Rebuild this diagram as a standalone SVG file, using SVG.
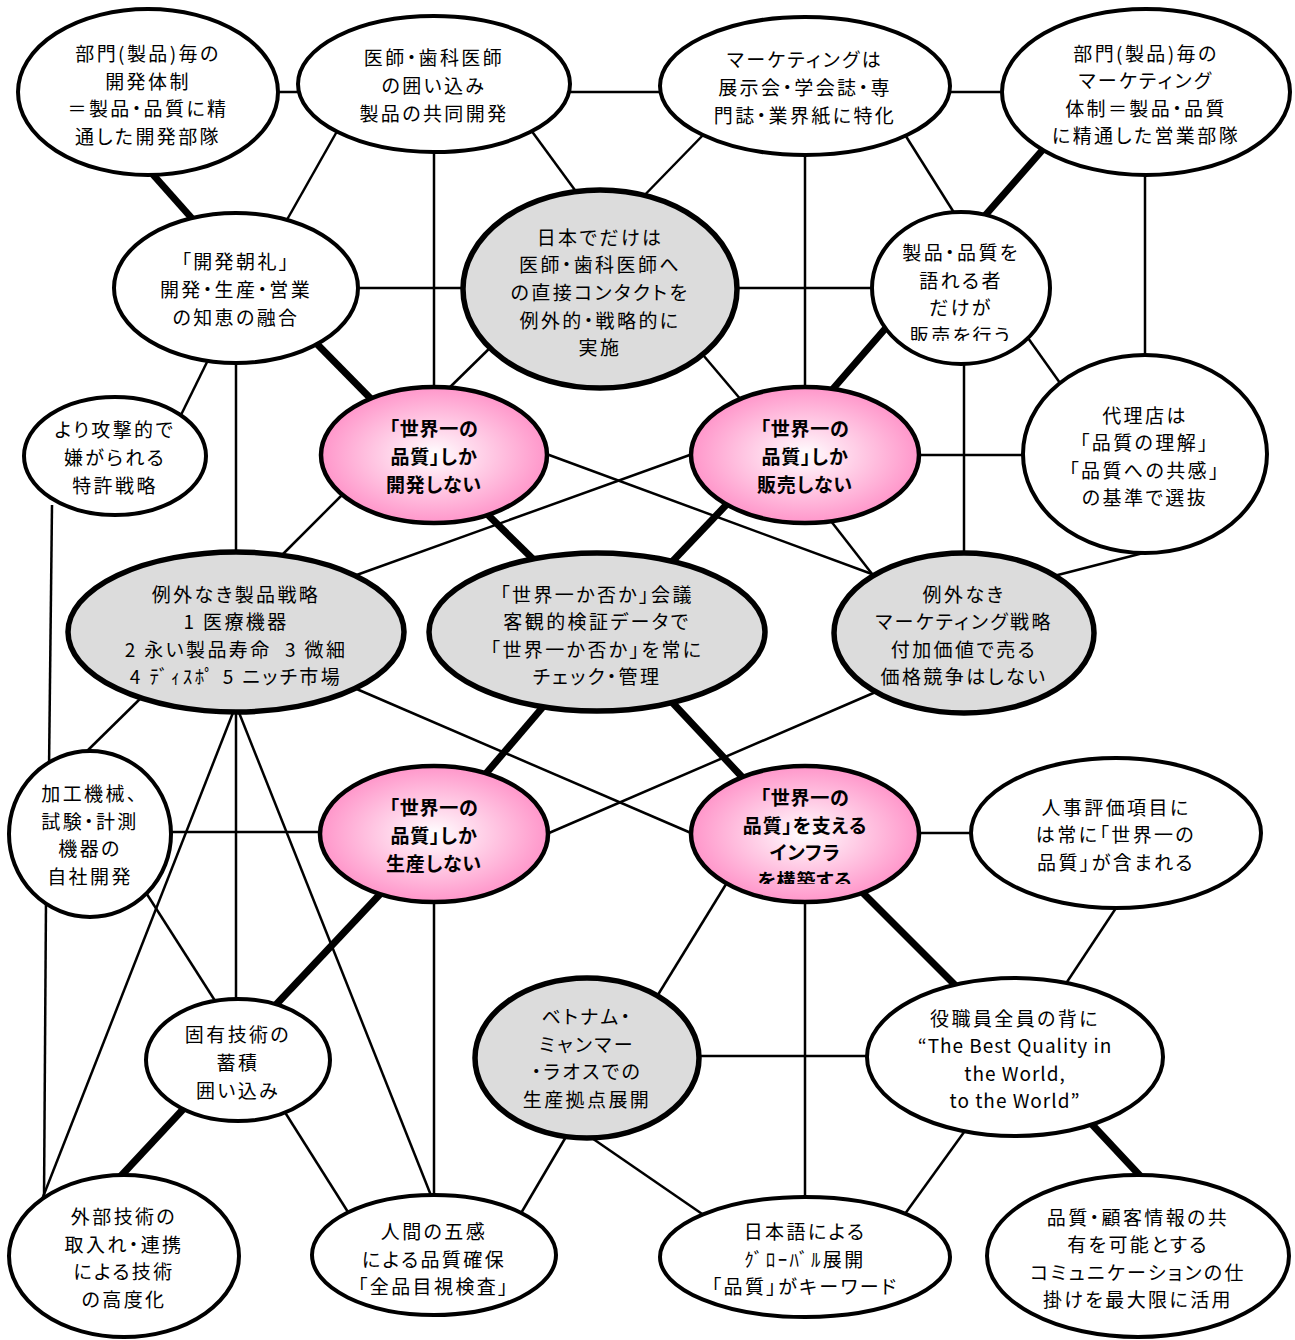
<svg xmlns="http://www.w3.org/2000/svg" width="1295" height="1340" viewBox="0 0 1295 1340">
<defs>
<radialGradient id="pk" cx="50%" cy="50%" r="50%">
<stop offset="0" stop-color="#ffffff"/>
<stop offset="0.25" stop-color="#ffe3f1"/>
<stop offset="1" stop-color="#ff96ca"/>
</radialGradient>
<clipPath id="clip7"><rect x="850" y="200" width="230" height="141"/></clipPath>
<clipPath id="clip17"><rect x="680" y="760" width="250" height="124"/></clipPath>
</defs>
<style>
.c{stroke:#000;stroke-width:2.5;fill:none}
.k{stroke:#000;stroke-width:7;fill:none}
.w{fill:#fff;stroke:#000;stroke-width:4}
.g{fill:#dcdcdc;stroke:#000;stroke-width:5.5}
.p{fill:url(#pk);stroke:#000;stroke-width:4.5}
text{font-family:"Noto Sans CJK JP","Noto Sans",sans-serif;font-size:19px;text-anchor:middle;dominant-baseline:central;letter-spacing:2.4px;font-feature-settings:"palt";white-space:pre;fill:#000}
.b{font-weight:bold;letter-spacing:0.8px}
.l{letter-spacing:1px;font-feature-settings:normal}
</style>
<rect width="1295" height="1340" fill="#fff"/>
<g id="connectors">
<line class="c" x1="270" y1="92" x2="305" y2="92"/>
<line class="c" x1="565" y1="92" x2="665" y2="92"/>
<line class="c" x1="945" y1="92" x2="1007" y2="92"/>
<line class="c" x1="340" y1="126" x2="284" y2="225"/>
<line class="c" x1="434" y1="145" x2="434" y2="395"/>
<line class="c" x1="528" y1="126" x2="580" y2="197"/>
<line class="c" x1="707" y1="131" x2="634" y2="206"/>
<line class="c" x1="805" y1="148" x2="805" y2="395"/>
<line class="c" x1="902" y1="130" x2="958" y2="219"/>
<line class="c" x1="1145" y1="168" x2="1145" y2="362"/>
<line class="c" x1="350" y1="288" x2="470" y2="288"/>
<line class="c" x1="730" y1="288" x2="880" y2="288"/>
<line class="c" x1="210" y1="356" x2="179" y2="419"/>
<line class="c" x1="236" y1="356" x2="236" y2="560"/>
<line class="c" x1="496" y1="342" x2="444" y2="393"/>
<line class="c" x1="698" y1="349" x2="742" y2="401"/>
<line class="c" x1="1028" y1="338" x2="1065" y2="390"/>
<line class="c" x1="964" y1="356" x2="964" y2="560"/>
<line class="c" x1="912" y1="455" x2="1030" y2="455"/>
<line class="c" x1="52" y1="505" x2="49" y2="770"/>
<line class="c" x1="346" y1="491" x2="278" y2="559"/>
<line class="c" x1="541" y1="452" x2="880" y2="577"/>
<line class="c" x1="698" y1="452" x2="351" y2="577"/>
<line class="c" x1="827" y1="516" x2="876" y2="579"/>
<line class="c" x1="1151" y1="551" x2="1050" y2="577"/>
<line class="c" x1="145" y1="694" x2="84" y2="754"/>
<line class="c" x1="236" y1="705" x2="41" y2="1202"/>
<line class="c" x1="236" y1="705" x2="236" y2="1007"/>
<line class="c" x1="236" y1="705" x2="434" y2="1203"/>
<line class="c" x1="352" y1="687" x2="698" y2="836"/>
<line class="c" x1="878" y1="691" x2="542" y2="836"/>
<line class="c" x1="165" y1="832" x2="327" y2="832"/>
<line class="c" x1="143" y1="888" x2="219" y2="1007"/>
<line class="c" x1="46" y1="900" x2="44" y2="1200"/>
<line class="c" x1="434" y1="895" x2="434" y2="1202"/>
<line class="c" x1="281" y1="1106" x2="353" y2="1220"/>
<line class="c" x1="570" y1="1130" x2="517" y2="1220"/>
<line class="c" x1="586" y1="1134" x2="708" y2="1218"/>
<line class="c" x1="728" y1="881" x2="656" y2="998"/>
<line class="c" x1="805" y1="895" x2="805" y2="1204"/>
<line class="c" x1="692" y1="1056" x2="874" y2="1056"/>
<line class="c" x1="912" y1="833" x2="978" y2="833"/>
<line class="c" x1="1118" y1="905" x2="1063" y2="988"/>
<line class="c" x1="967" y1="1128" x2="902" y2="1218"/>
<line class="k" x1="148" y1="169" x2="196" y2="223"/>
<line class="k" x1="1046" y1="146" x2="982" y2="219"/>
<line class="k" x1="315" y1="342" x2="377" y2="405"/>
<line class="k" x1="891" y1="322" x2="825" y2="398"/>
<line class="k" x1="485" y1="512" x2="536" y2="562"/>
<line class="k" x1="729" y1="502" x2="669" y2="565"/>
<line class="k" x1="548" y1="701" x2="483" y2="777"/>
<line class="k" x1="669" y1="699" x2="743" y2="778"/>
<line class="k" x1="383" y1="891" x2="271" y2="1010"/>
<line class="k" x1="188" y1="1104" x2="119" y2="1178"/>
<line class="k" x1="862" y1="892" x2="957" y2="987"/>
<line class="k" x1="1086" y1="1118" x2="1144" y2="1180"/>
</g>
<g id="n1"><ellipse class="w" cx="148" cy="92" rx="130" ry="83"/><text><tspan x="148" y="52.1">部門(製品)毎の</tspan><tspan x="148" y="79.7">開発体制</tspan><tspan x="148" y="107.3">＝製品・品質に精</tspan><tspan x="148" y="134.9">通した開発部隊</tspan></text></g>
<g id="n2"><ellipse class="w" cx="434" cy="84" rx="136" ry="68"/><text><tspan x="434" y="56.4">医師・歯科医師</tspan><tspan x="434" y="84">の囲い込み</tspan><tspan x="434" y="111.6">製品の共同開発</tspan></text></g>
<g id="n3"><ellipse class="w" cx="805" cy="86" rx="145" ry="69"/><text><tspan x="805" y="58.4">マーケティングは</tspan><tspan x="805" y="86">展示会・学会誌・専</tspan><tspan x="805" y="113.6">門誌・業界紙に特化</tspan></text></g>
<g id="n4"><ellipse class="w" cx="1146" cy="92" rx="144" ry="83"/><text><tspan x="1146" y="51.6">部門(製品)毎の</tspan><tspan x="1146" y="79.2">マーケティング</tspan><tspan x="1146" y="106.8">体制＝製品・品質</tspan><tspan x="1146" y="134.4">に精通した営業部隊</tspan></text></g>
<g id="n5"><ellipse class="w" cx="236" cy="288" rx="122" ry="75"/><text><tspan x="236" y="260.4">「開発朝礼」</tspan><tspan x="236" y="288">開発・生産・営業</tspan><tspan x="236" y="315.6">の知恵の融合</tspan></text></g>
<g id="n6"><ellipse class="g" cx="600" cy="289" rx="137" ry="99"/><text><tspan x="600" y="235.8">日本でだけは</tspan><tspan x="600" y="263.4">医師・歯科医師へ</tspan><tspan x="600" y="291">の直接コンタクトを</tspan><tspan x="600" y="318.6">例外的・戦略的に</tspan><tspan x="600" y="346.2">実施</tspan></text></g>
<g id="n7"><ellipse class="w" cx="961" cy="288" rx="89" ry="76"/><text clip-path="url(#clip7)"><tspan x="961" y="251.1">製品・品質を</tspan><tspan x="961" y="278.7">語れる者</tspan><tspan x="961" y="306.3">だけが</tspan><tspan x="961" y="333.9">販売を行う</tspan></text></g>
<g id="n8"><ellipse class="w" cx="115" cy="456" rx="91" ry="59"/><text><tspan x="115" y="428.4">より攻撃的で</tspan><tspan x="115" y="456">嫌がられる</tspan><tspan x="115" y="483.6">特許戦略</tspan></text></g>
<g id="n9"><ellipse class="p" cx="434" cy="455" rx="113" ry="68"/><text class="b"><tspan x="434" y="427.4">「世界一の</tspan><tspan x="434" y="455">品質」しか</tspan><tspan x="434" y="482.6">開発しない</tspan></text></g>
<g id="n10"><ellipse class="p" cx="805" cy="455" rx="114" ry="68"/><text class="b"><tspan x="805" y="427.4">「世界一の</tspan><tspan x="805" y="455">品質」しか</tspan><tspan x="805" y="482.6">販売しない</tspan></text></g>
<g id="n11"><ellipse class="w" cx="1145" cy="454" rx="122" ry="99"/><text><tspan x="1145" y="413.6">代理店は</tspan><tspan x="1145" y="441.2">「品質の理解」</tspan><tspan x="1145" y="468.8">「品質への共感」</tspan><tspan x="1145" y="496.4">の基準で選抜</tspan></text></g>
<g id="n12"><ellipse class="g" cx="236" cy="632" rx="168" ry="80"/><text><tspan x="236" y="592.6">例外なき製品戦略</tspan><tspan x="236" y="620.2">1 医療機器</tspan><tspan x="236" y="647.8">2 永い製品寿命  3 微細</tspan><tspan x="236" y="675.4">4 ﾃﾞｨｽﾎﾟ 5 ニッチ市場</tspan></text></g>
<g id="n13"><ellipse class="g" cx="597" cy="632" rx="168" ry="79"/><text><tspan x="597" y="592.6">「世界一か否か」会議</tspan><tspan x="597" y="620.2">客観的検証データで</tspan><tspan x="597" y="647.8">「世界一か否か」を常に</tspan><tspan x="597" y="675.4">チェック・管理</tspan></text></g>
<g id="n14"><ellipse class="g" cx="964" cy="633" rx="130" ry="80"/><text><tspan x="964" y="592.6">例外なき</tspan><tspan x="964" y="620.2">マーケティング戦略</tspan><tspan x="964" y="647.8">付加価値で売る</tspan><tspan x="964" y="675.4">価格競争はしない</tspan></text></g>
<g id="n15"><ellipse class="w" cx="90" cy="834" rx="81" ry="83"/><text><tspan x="90" y="792.1">加工機械、</tspan><tspan x="90" y="819.7">試験・計測</tspan><tspan x="90" y="847.3">機器の</tspan><tspan x="90" y="874.9">自社開発</tspan></text></g>
<g id="n16"><ellipse class="p" cx="434" cy="834" rx="114" ry="68"/><text class="b"><tspan x="434" y="806.4">「世界一の</tspan><tspan x="434" y="834">品質」しか</tspan><tspan x="434" y="861.6">生産しない</tspan></text></g>
<g id="n17"><ellipse class="p" cx="805" cy="834" rx="114" ry="68"/><text class="b" clip-path="url(#clip17)"><tspan x="805" y="796.1">「世界一の</tspan><tspan x="805" y="823.7">品質」を支える</tspan><tspan x="805" y="851.3">インフラ</tspan><tspan x="805" y="878.9">を構築する</tspan></text></g>
<g id="n18"><ellipse class="w" cx="1116" cy="833" rx="145" ry="75"/><text><tspan x="1116" y="805.7">人事評価項目に</tspan><tspan x="1116" y="833.3">は常に「世界一の</tspan><tspan x="1116" y="860.9">品質」が含まれる</tspan></text></g>
<g id="n19"><ellipse class="w" cx="238" cy="1060" rx="92" ry="61"/><text><tspan x="238" y="1033.4">固有技術の</tspan><tspan x="238" y="1061">蓄積</tspan><tspan x="238" y="1088.6">囲い込み</tspan></text></g>
<g id="n20"><ellipse class="g" cx="587" cy="1058" rx="112" ry="80"/><text><tspan x="587" y="1015.1">ベトナム・</tspan><tspan x="587" y="1042.7">ミャンマー</tspan><tspan x="587" y="1070.3">・ラオスでの</tspan><tspan x="587" y="1097.9">生産拠点展開</tspan></text></g>
<g id="n21"><ellipse class="w" cx="1015" cy="1057" rx="148" ry="79"/><text><tspan x="1015" y="1016.6">役職員全員の背に</tspan><tspan class="l" x="1015" y="1044.2">“The Best Quality in</tspan><tspan class="l" x="1015" y="1071.8">the World,</tspan><tspan class="l" x="1015" y="1099.4">to the World”</tspan></text></g>
<g id="n22"><ellipse class="w" cx="124" cy="1256" rx="115" ry="81"/><text><tspan x="124" y="1215.1">外部技術の</tspan><tspan x="124" y="1242.7">取入れ・連携</tspan><tspan x="124" y="1270.3">による技術</tspan><tspan x="124" y="1297.9">の高度化</tspan></text></g>
<g id="n23"><ellipse class="w" cx="434" cy="1255" rx="122" ry="60"/><text><tspan x="434" y="1229.9">人間の五感</tspan><tspan x="434" y="1257.5">による品質確保</tspan><tspan x="434" y="1285.1">「全品目視検査」</tspan></text></g>
<g id="n24"><ellipse class="w" cx="805" cy="1257" rx="145" ry="60"/><text><tspan x="805" y="1229.9">日本語による</tspan><tspan x="805" y="1257.5">ｸﾞﾛｰﾊﾞﾙ展開</tspan><tspan x="805" y="1285.1">「品質」がキーワード</tspan></text></g>
<g id="n25"><ellipse class="w" cx="1138" cy="1256" rx="151" ry="81"/><text><tspan x="1138" y="1215.6">品質・顧客情報の共</tspan><tspan x="1138" y="1243.2">有を可能とする</tspan><tspan x="1138" y="1270.8">コミュニケーションの仕</tspan><tspan x="1138" y="1298.4">掛けを最大限に活用</tspan></text></g>
</svg>
